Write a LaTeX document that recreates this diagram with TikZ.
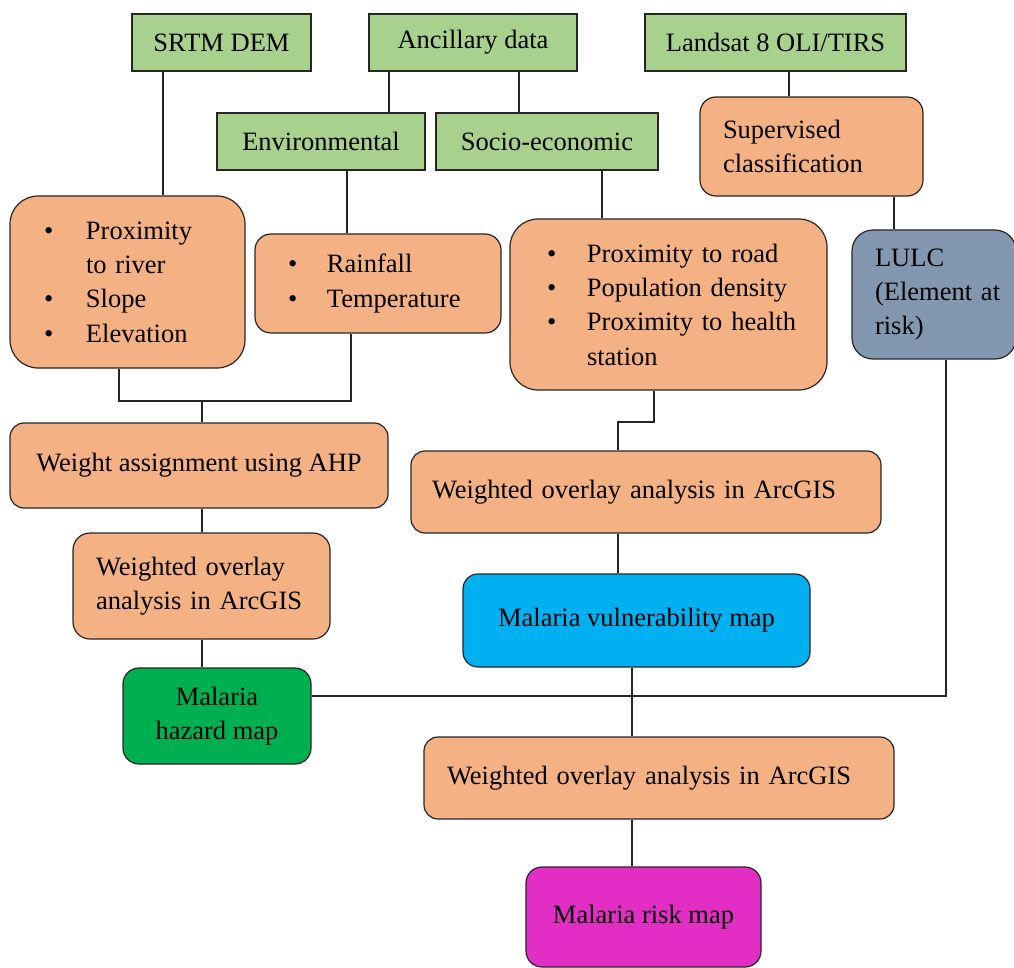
\documentclass[tikz,border=0pt]{standalone}
\usepackage{fontspec}
\setmainfont{Liberation Serif}
\definecolor{cgreen}{HTML}{A9D18E}
\definecolor{corange}{HTML}{F4B183}
\definecolor{cdgreen}{HTML}{00B050}
\definecolor{cblue}{HTML}{00B0F0}
\definecolor{cslate}{HTML}{8497B0}
\definecolor{cmag}{HTML}{E22EC4}
\definecolor{cline}{HTML}{262626}
\newcommand\myfs{\fontsize{26.5}{34.3}\selectfont}
\newcommand\bul[1]{\makebox[#1pt][l]{•}}
\tikzset{
  base/.style={draw=cline, line width=1.2pt, inner sep=0pt, font=\myfs, align=center},
  gbox/.style={base, fill=cgreen},
  obox/.style={base, fill=corange},
  lefttext/.style={align=left, text width=#1pt},
  conn/.style={draw=cline, line width=1.2pt}
}
\begin{document}
\begin{tikzpicture}[x=1pt,y=-1pt]
\useasboundingbox (0,0) rectangle (1014,968);
\fill[white] (0,0) rectangle (1014,968);
% top data sources
\node[gbox, minimum width=179pt, minimum height=57pt] (srtm) at (221.5,42.5) {SRTM DEM};
\node[gbox, minimum width=208pt, minimum height=57pt] (anc) at (473,42.5) {Ancillary data};
\node[gbox, minimum width=261pt, minimum height=57pt] (lands) at (775.5,42.5) {Landsat 8 OLI/TIRS};
\node[gbox, minimum width=208pt, minimum height=57pt] (env) at (321,141.5) {Environmental};
\node[gbox, minimum width=222pt, minimum height=57pt] (soc) at (547,141.5) {Socio-economic};
% factor boxes
\node[obox, rounded corners=28pt, lefttext=235, minimum height=172pt] (b1) at (127.5,282)
  {\hspace*{34pt}\bul{42}Proximity\\\hspace*{76pt}to river\\\hspace*{34pt}\bul{42}Slope\\\hspace*{34pt}\bul{42}Elevation};
\node[obox, rounded corners=16pt, lefttext=246, minimum height=99pt] (b2) at (378,283.5)
  {\hspace*{33pt}\bul{39}Rainfall\\\hspace*{33pt}\bul{39}Temperature};
\node[obox, rounded corners=28pt, lefttext=317, minimum height=171pt] (b3) at (668.5,304.5)
  {\hspace*{37pt}\bul{40}Proximity to road\\\hspace*{37pt}\bul{40}Population density\\\hspace*{37pt}\bul{40}Proximity to health\\\hspace*{77pt}station};
\node[obox, rounded corners=16pt, lefttext=223, minimum height=99pt] (sup) at (811.5,146.5)
  {\hspace*{23pt}Supervised\\\hspace*{23pt}classification};
\node[base, fill=cslate, rounded corners=21pt, lefttext=164, minimum height=129pt] (lulc) at (934,294.5)
  {\hspace*{23pt}LULC\\\hspace*{23pt}(Element at\\\hspace*{23pt}risk)};
% hazard branch
\node[obox, rounded corners=14pt, minimum width=378pt, minimum height=85pt] (ahp) at (199,465.5) {Weight assignment using AHP};
\node[obox, rounded corners=17pt, lefttext=257, minimum height=106pt] (wleft) at (201.5,586)
  {\hspace*{23pt}Weighted overlay\\\hspace*{23pt}analysis in ArcGIS};
\node[base, fill=cdgreen, rounded corners=16pt, minimum width=188pt, minimum height=96pt] (haz) at (217,716) {Malaria\\hazard map};
% vulnerability branch
\node[obox, rounded corners=14pt, lefttext=470, minimum height=82pt] (wmid) at (646,492)
  {\hspace*{21pt}Weighted overlay analysis in ArcGIS};
\node[base, fill=cblue, rounded corners=15pt, minimum width=347pt, minimum height=93pt] (vuln) at (636.5,620.5) {Malaria vulnerability map};
% risk
\node[obox, rounded corners=14pt, lefttext=470, minimum height=82pt] (wbot) at (659,778)
  {\hspace*{23pt}Weighted overlay analysis in ArcGIS};
\node[base, fill=cmag, rounded corners=16pt, minimum width=235pt, minimum height=100pt] (risk) at (643.5,917) {Malaria risk map};
% helper coordinates for connector positions
\coordinate (xs) at (163,0);
\coordinate (xae) at (389,0);
\coordinate (xas) at (519,0);
\coordinate (xe) at (347,0);
\coordinate (xso) at (602,0);
\coordinate (xl) at (789,0);
\coordinate (xsu) at (894,0);
\coordinate (xb1) at (119,0);
\coordinate (xb2) at (351,0);
\coordinate (j1) at (202,401);
\coordinate (xb3) at (654,0);
\coordinate (j2) at (618,422);
\coordinate (xv) at (632,0);
\coordinate (turn) at (946,696);
% connectors
\draw[conn] (srtm.south -| xs) -- (b1.north -| xs);
\draw[conn] (anc.south -| xae) -- (env.north -| xae);
\draw[conn] (anc.south -| xas) -- (soc.north -| xas);
\draw[conn] (env.south -| xe) -- (b2.north -| xe);
\draw[conn] (soc.south -| xso) -- (b3.north -| xso);
\draw[conn] (lands.south -| xl) -- (sup.north -| xl);
\draw[conn] (sup.south -| xsu) -- (lulc.north -| xsu);
\draw[conn] (b1.south -| xb1) -- (j1 -| xb1) -- (j1 -| xb2) -- (b2.south -| xb2);
\draw[conn] (j1) -- (ahp.north -| j1);
\draw[conn] (ahp.south -| j1) -- (wleft.north -| j1);
\draw[conn] (wleft.south -| j1) -- (haz.north -| j1);
\draw[conn] (b3.south -| xb3) -- (j2 -| xb3) -- (j2) -- (wmid.north -| j2);
\draw[conn] (wmid.south -| j2) -- (vuln.north -| j2);
\draw[conn] (vuln.south -| xv) -- (wbot.north -| xv);
\draw[conn] (haz.east |- turn) -- (turn) -- (lulc.south -| turn);
\draw[conn] (wbot.south -| xv) -- (risk.north -| xv);
\end{tikzpicture}
\end{document}
